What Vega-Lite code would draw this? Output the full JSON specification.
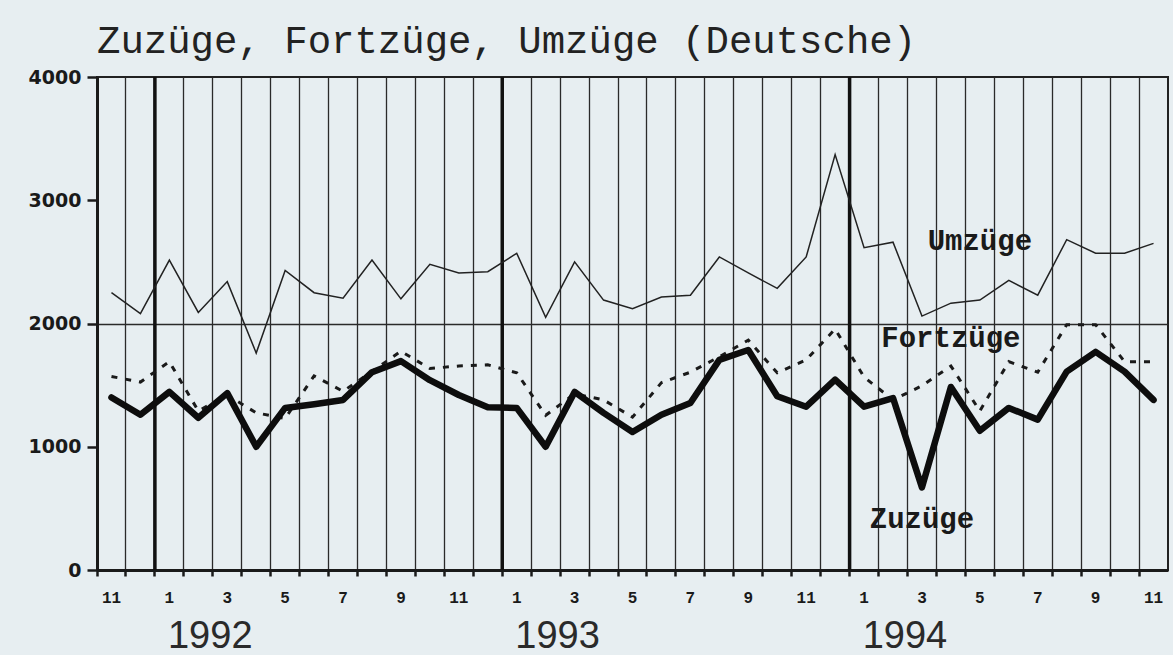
{
  "$schema": "https://vega.github.io/schema/vega-lite/v6.json",
  "width": 1071,
  "height": 493,
  "autosize": "none",
  "padding": {"left": 97, "top": 77, "right": 5, "bottom": 85},
  "background": "#e7eef1",
  "config": {
    "view": {"stroke": "#222222", "strokeWidth": 2},
    "axis": {"labelColor": "#1a1a1a", "tickColor": "#1a1a1a", "domainColor": "#1a1a1a"}
  },
  "title": {
    "text": "Zuzüge, Fortzüge, Umzüge (Deutsche)",
    "anchor": "start",
    "frame": "group",
    "font": "Liberation Mono",
    "fontSize": 39,
    "fontWeight": "normal",
    "color": "#222222",
    "offset": 7
  },
  "datasets": {
    "monthly": [
      {"month": "1991-11", "zuzuege": 1400, "fortzuege": 1570, "umzuege": 2250},
      {"month": "1991-12", "zuzuege": 1260, "fortzuege": 1525, "umzuege": 2080},
      {"month": "1992-01", "zuzuege": 1445, "fortzuege": 1690, "umzuege": 2515},
      {"month": "1992-02", "zuzuege": 1235, "fortzuege": 1290, "umzuege": 2090},
      {"month": "1992-03", "zuzuege": 1435, "fortzuege": 1420, "umzuege": 2340},
      {"month": "1992-04", "zuzuege": 1000, "fortzuege": 1275, "umzuege": 1760},
      {"month": "1992-05", "zuzuege": 1315, "fortzuege": 1230, "umzuege": 2430},
      {"month": "1992-06", "zuzuege": 1345, "fortzuege": 1575, "umzuege": 2250},
      {"month": "1992-07", "zuzuege": 1380, "fortzuege": 1450, "umzuege": 2205},
      {"month": "1992-08", "zuzuege": 1605, "fortzuege": 1610, "umzuege": 2515},
      {"month": "1992-09", "zuzuege": 1695, "fortzuege": 1775, "umzuege": 2200},
      {"month": "1992-10", "zuzuege": 1540, "fortzuege": 1635, "umzuege": 2480},
      {"month": "1992-11", "zuzuege": 1420, "fortzuege": 1655, "umzuege": 2410},
      {"month": "1992-12", "zuzuege": 1320, "fortzuege": 1665, "umzuege": 2420},
      {"month": "1993-01", "zuzuege": 1315, "fortzuege": 1600, "umzuege": 2570},
      {"month": "1993-02", "zuzuege": 1000, "fortzuege": 1255, "umzuege": 2050},
      {"month": "1993-03", "zuzuege": 1445, "fortzuege": 1430, "umzuege": 2500},
      {"month": "1993-04", "zuzuege": 1275, "fortzuege": 1380, "umzuege": 2190},
      {"month": "1993-05", "zuzuege": 1120, "fortzuege": 1240, "umzuege": 2120},
      {"month": "1993-06", "zuzuege": 1260, "fortzuege": 1520, "umzuege": 2215},
      {"month": "1993-07", "zuzuege": 1355, "fortzuege": 1605, "umzuege": 2230},
      {"month": "1993-08", "zuzuege": 1705, "fortzuege": 1730, "umzuege": 2540},
      {"month": "1993-09", "zuzuege": 1785, "fortzuege": 1865, "umzuege": 2410},
      {"month": "1993-10", "zuzuege": 1410, "fortzuege": 1600, "umzuege": 2285},
      {"month": "1993-11", "zuzuege": 1325, "fortzuege": 1705, "umzuege": 2540},
      {"month": "1993-12", "zuzuege": 1545, "fortzuege": 1955, "umzuege": 3370},
      {"month": "1994-01", "zuzuege": 1325, "fortzuege": 1565, "umzuege": 2615},
      {"month": "1994-02", "zuzuege": 1395, "fortzuege": 1380, "umzuege": 2660},
      {"month": "1994-03", "zuzuege": 670, "fortzuege": 1495, "umzuege": 2060},
      {"month": "1994-04", "zuzuege": 1485, "fortzuege": 1655, "umzuege": 2165},
      {"month": "1994-05", "zuzuege": 1130, "fortzuege": 1290, "umzuege": 2190},
      {"month": "1994-06", "zuzuege": 1315, "fortzuege": 1690, "umzuege": 2350},
      {"month": "1994-07", "zuzuege": 1220, "fortzuege": 1605, "umzuege": 2230},
      {"month": "1994-08", "zuzuege": 1610, "fortzuege": 1990, "umzuege": 2680},
      {"month": "1994-09", "zuzuege": 1770, "fortzuege": 1990, "umzuege": 2570},
      {"month": "1994-10", "zuzuege": 1610, "fortzuege": 1690, "umzuege": 2570},
      {"month": "1994-11", "zuzuege": 1380, "fortzuege": 1690, "umzuege": 2650}
    ],
    "labels": [
      {"series": "Umzüge", "month": "1994-05", "value": 2600},
      {"series": "Fortzüge", "month": "1994-04", "value": 1810},
      {"series": "Zuzüge", "month": "1994-03", "value": 340}
    ]
  },
  "resolve": {"axis": {"x": "independent", "y": "independent"}},
  "layer": [
    {
      "data": {"name": "monthly"},
      "transform": [{"filter": "slice(datum.month, 5) == '01'"}],
      "mark": {"type": "rule", "color": "#111111", "strokeWidth": 3.5},
      "encoding": {
        "x": {
          "field": "month",
          "type": "ordinal",
          "bandPosition": 0,
          "scale": {"type": "band", "paddingInner": 0, "paddingOuter": 0},
          "axis": {
            "orient": "bottom",
            "title": null,
            "bandPosition": 0,
            "labels": false,
            "grid": true,
            "gridColor": "#2a2a2a",
            "gridWidth": 1.3,
            "gridOpacity": 1,
            "ticks": true,
            "tickSize": 6,
            "tickWidth": 2.5,
            "domain": true,
            "domainWidth": 3
          }
        }
      }
    },
    {
      "data": {"name": "monthly"},
      "mark": {"type": "line", "color": "#222222", "strokeWidth": 1.5, "strokeJoin": "miter"},
      "encoding": {
        "x": {
          "field": "month",
          "type": "ordinal",
          "axis": {
            "orient": "bottom",
            "title": null,
            "labelExpr": "slice(datum.value, 5) == '03' ? slice(datum.value, 0, 4) : ''",
            "labelAngle": 0,
            "labelAlign": "center",
            "labelOffset": -17,
            "labelBaseline": "alphabetic",
            "labelPadding": 77,
            "labelFont": "Liberation Sans",
            "labelFontSize": 38,
            "labelColor": "#2a2a2a",
            "labelOverlap": false,
            "labelBound": false,
            "labelFlush": false,
            "ticks": false,
            "grid": false,
            "domain": false
          }
        },
        "y": {
          "field": "umzuege",
          "type": "quantitative",
          "scale": {"domain": [0, 4000], "nice": false},
          "axis": {
            "orient": "left",
            "title": null,
            "values": [0, 1000, 2000, 3000, 4000],
            "format": "d",
            "labelFont": "DejaVu Sans",
            "labelFontWeight": "bold",
            "labelFontSize": 19,
            "labelPadding": 6,
            "grid": true,
            "gridColor": "#2a2a2a",
            "gridWidth": 1.3,
            "gridOpacity": {"condition": {"test": "datum.value == 2000", "value": 1}, "value": 0},
            "domain": true,
            "domainWidth": 3,
            "ticks": true,
            "tickSize": 10,
            "tickWidth": 2.5
          }
        }
      }
    },
    {
      "data": {"name": "monthly"},
      "mark": {"type": "line", "color": "#1a1a1a", "strokeWidth": 3, "strokeDash": [6, 8]},
      "encoding": {
        "x": {"field": "month", "type": "ordinal", "axis": null},
        "y": {"field": "fortzuege", "type": "quantitative", "axis": null}
      }
    },
    {
      "data": {"name": "monthly"},
      "mark": {"type": "line", "color": "#0d0d0d", "strokeWidth": 6.5, "strokeJoin": "round", "strokeCap": "round"},
      "encoding": {
        "x": {
          "field": "month",
          "type": "ordinal",
          "axis": {
            "orient": "bottom",
            "title": null,
            "labelExpr": "toNumber(slice(datum.value, 5)) % 2 == 1 ? toString(toNumber(slice(datum.value, 5))) : ''",
            "labelAngle": 0,
            "labelAlign": "center",
            "labelBaseline": "alphabetic",
            "labelPadding": 32,
            "labelFont": "Liberation Mono",
            "labelFontWeight": "bold",
            "labelFontSize": 16,
            "labelOverlap": false,
            "labelBound": false,
            "labelFlush": false,
            "ticks": false,
            "grid": false,
            "domain": false
          }
        },
        "y": {"field": "zuzuege", "type": "quantitative", "axis": null}
      }
    },
    {
      "data": {"name": "labels"},
      "mark": {"type": "text", "font": "Liberation Mono", "fontWeight": "bold", "fontSize": 29, "color": "#1a1a1a", "align": "center", "baseline": "alphabetic"},
      "encoding": {
        "x": {"field": "month", "type": "ordinal", "axis": null},
        "y": {"field": "value", "type": "quantitative", "axis": null},
        "text": {"field": "series"}
      }
    }
  ]
}
